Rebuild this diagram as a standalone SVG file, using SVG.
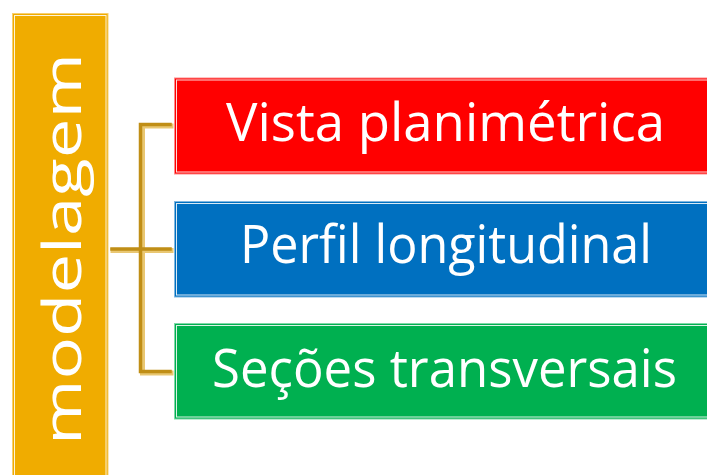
<svg xmlns="http://www.w3.org/2000/svg" width="707" height="475" viewBox="0 0 707 475">
<style>
.lbl{font-family:"Open Sans","Noto Sans",sans-serif;fill:#fff;font-size:53px}
.inner{fill:none;stroke:#fff;stroke-width:1;stroke-opacity:0.85}
.glow{fill:none;stroke:#E9C772;stroke-width:5;stroke-linecap:square;stroke-linejoin:miter}
.ln{fill:none;stroke:#C08E16;stroke-width:3.5;stroke-linecap:square;stroke-linejoin:miter}
</style>
<rect width="707" height="475" fill="#fff"/>
<g id="root">
<rect x="12.5" y="13.5" width="95.5" height="470" fill="#F0AC00" stroke="#F7CF70" stroke-width="1"/>
<rect x="14.5" y="15.5" width="91.5" height="470" class="inner"/>
<text class="lbl" transform="translate(81,249) rotate(-90)" text-anchor="middle" font-size="70" textLength="392" lengthAdjust="spacingAndGlyphs">modelagem</text>
</g>
<g id="connectors">
<path class="glow" d="M113,250.5 H171 M171,126 H142.5 V373 H171"/>
<path class="ln" d="M112,249 H170 M170,124.5 H140.5 V371.5 H170"/>
</g>
<g id="n1">
<rect x="174.5" y="78" width="540" height="96" fill="#FF0000" stroke="#FF8A8A" stroke-width="1"/>
<rect x="176.5" y="80" width="540" height="92" class="inner"/>
<text class="lbl" x="226" y="141" textLength="439" lengthAdjust="spacingAndGlyphs">Vista planimétrica</text>
</g>
<g id="n2">
<rect x="174.5" y="201.5" width="540" height="95.5" fill="#0070C0" stroke="#7FB6E0" stroke-width="1"/>
<rect x="176.5" y="203.5" width="540" height="91.5" class="inner"/>
<text class="lbl" x="240" y="263" textLength="412" lengthAdjust="spacingAndGlyphs">Perfil longitudinal</text>
</g>
<g id="n3">
<rect x="174.5" y="323.5" width="540" height="95.5" fill="#00B050" stroke="#7FD8A8" stroke-width="1"/>
<rect x="176.5" y="325.5" width="540" height="91.5" class="inner"/>
<text class="lbl" x="212" y="387" textLength="465" lengthAdjust="spacingAndGlyphs">Seções transversais</text>
</g>
</svg>
